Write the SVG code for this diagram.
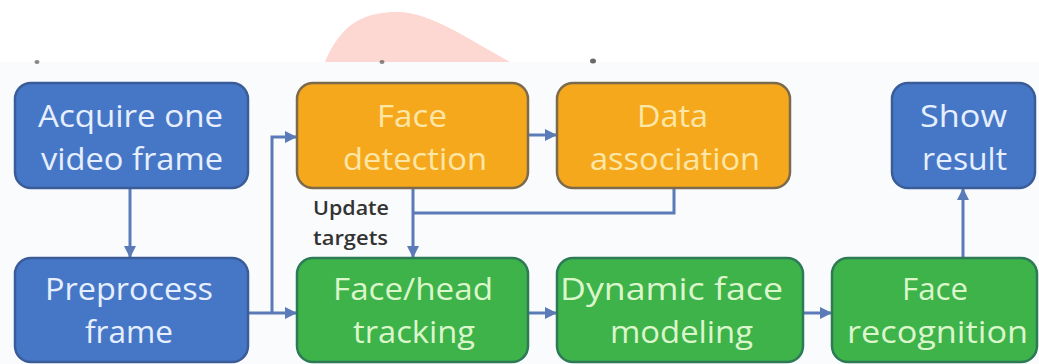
<svg xmlns="http://www.w3.org/2000/svg" width="1039" height="364" viewBox="0 0 1039 364">
<style>
.box{stroke-width:2.5}
.blue{fill:#4677c6;stroke:#3a5d99}
.orange{fill:#f5a81c;stroke:#7c6a4c}
.green{fill:#3db34a;stroke:#2d7a56}
.t{font-family:"Open Sans","Liberation Sans",sans-serif;font-size:31px;text-anchor:start}
.tb{fill:#e6efff}
.to{fill:#fde6a6}
.tg{fill:#dcf6cc}
.conn{fill:none;stroke:#5a7bb8;stroke-width:3}
.lbl{font-family:"Open Sans","Liberation Sans",sans-serif;font-size:19px;font-weight:600;fill:#333}
</style>
<defs>
<marker id="arr" markerUnits="userSpaceOnUse" markerWidth="12" markerHeight="12" viewBox="0 0 12 12" refX="11" refY="6" orient="auto">
<path d="M0,0 L12,6 L0,12 Z" fill="#5a7bb8"/>
</marker>
</defs>
<rect x="0" y="0" width="1039" height="364" fill="#ffffff"/>
<path d="M325,62 C342,22 365,12 398,12 C430,12 470,40 510,62 Z" fill="#fdd7d2"/>
<rect x="0" y="62" width="1039" height="302" fill="#fafbfd"/>
<ellipse cx="37" cy="62" rx="2.5" ry="2" fill="#555" opacity="0.7"/>
<ellipse cx="382" cy="62" rx="2.5" ry="2" fill="#555" opacity="0.7"/>
<ellipse cx="593" cy="61" rx="3" ry="2.5" fill="#444" opacity="0.8"/>

<g id="connectors">
<line class="conn" x1="130" y1="188" x2="130" y2="257" marker-end="url(#arr)"/>
<line class="conn" x1="248" y1="313" x2="296" y2="313" marker-end="url(#arr)"/>
<polyline class="conn" points="272,313 272,137 296,137" marker-end="url(#arr)"/>
<line class="conn" x1="528" y1="135" x2="556" y2="135" marker-end="url(#arr)"/>
<line class="conn" x1="413" y1="188" x2="413" y2="257" marker-end="url(#arr)"/>
<polyline class="conn" points="674,188 674,213 413,213"/>
<line class="conn" x1="528" y1="313" x2="556" y2="313" marker-end="url(#arr)"/>
<line class="conn" x1="803" y1="313" x2="831" y2="313" marker-end="url(#arr)"/>
<line class="conn" x1="963" y1="258" x2="963" y2="189" marker-end="url(#arr)"/>
<text class="lbl" x="313" y="215" textLength="76" lengthAdjust="spacingAndGlyphs">Update</text>
<text class="lbl" x="313" y="245" textLength="75" lengthAdjust="spacingAndGlyphs">targets</text>
</g>

<g id="acquire">
<rect class="box blue" x="15" y="83" width="233" height="105" rx="16"/>
<text class="t tb" x="38" y="127" textLength="185" lengthAdjust="spacingAndGlyphs">Acquire one</text>
<text class="t tb" x="41" y="170" textLength="182" lengthAdjust="spacingAndGlyphs">video frame</text>
</g>
<g id="face-detection">
<rect class="box orange" x="297" y="83" width="231" height="105" rx="16"/>
<text class="t to" x="377" y="127" textLength="70" lengthAdjust="spacingAndGlyphs">Face</text>
<text class="t to" x="343" y="170" textLength="144" lengthAdjust="spacingAndGlyphs">detection</text>
</g>
<g id="data-association">
<rect class="box orange" x="557" y="83" width="233" height="105" rx="16"/>
<text class="t to" x="637" y="127" textLength="71" lengthAdjust="spacingAndGlyphs">Data</text>
<text class="t to" x="590" y="170" textLength="170" lengthAdjust="spacingAndGlyphs">association</text>
</g>
<g id="show-result">
<rect class="box blue" x="892" y="83" width="143" height="105" rx="16"/>
<text class="t tb" x="920" y="127" textLength="87" lengthAdjust="spacingAndGlyphs">Show</text>
<text class="t tb" x="922" y="170" textLength="85" lengthAdjust="spacingAndGlyphs">result</text>
</g>
<g id="preprocess">
<rect class="box blue" x="15" y="258" width="233" height="104" rx="16"/>
<text class="t tb" x="45" y="300" textLength="168" lengthAdjust="spacingAndGlyphs">Preprocess</text>
<text class="t tb" x="85" y="343" textLength="88" lengthAdjust="spacingAndGlyphs">frame</text>
</g>
<g id="face-head-tracking">
<rect class="box green" x="297" y="258" width="231" height="104" rx="16"/>
<text class="t tg" x="333" y="300" textLength="160" lengthAdjust="spacingAndGlyphs">Face/head</text>
<text class="t tg" x="353" y="343" textLength="122" lengthAdjust="spacingAndGlyphs">tracking</text>
</g>
<g id="dynamic-face-modeling">
<rect class="box green" x="557" y="258" width="246" height="104" rx="16"/>
<text class="t tg" x="560" y="300" textLength="223" lengthAdjust="spacingAndGlyphs">Dynamic face</text>
<text class="t tg" x="610" y="343" textLength="143" lengthAdjust="spacingAndGlyphs">modeling</text>
</g>
<g id="face-recognition">
<rect class="box green" x="832" y="258" width="205" height="104" rx="16"/>
<text class="t tg" x="902" y="300" textLength="66" lengthAdjust="spacingAndGlyphs">Face</text>
<text class="t tg" x="847" y="343" textLength="181" lengthAdjust="spacingAndGlyphs">recognition</text>
</g>
</svg>
